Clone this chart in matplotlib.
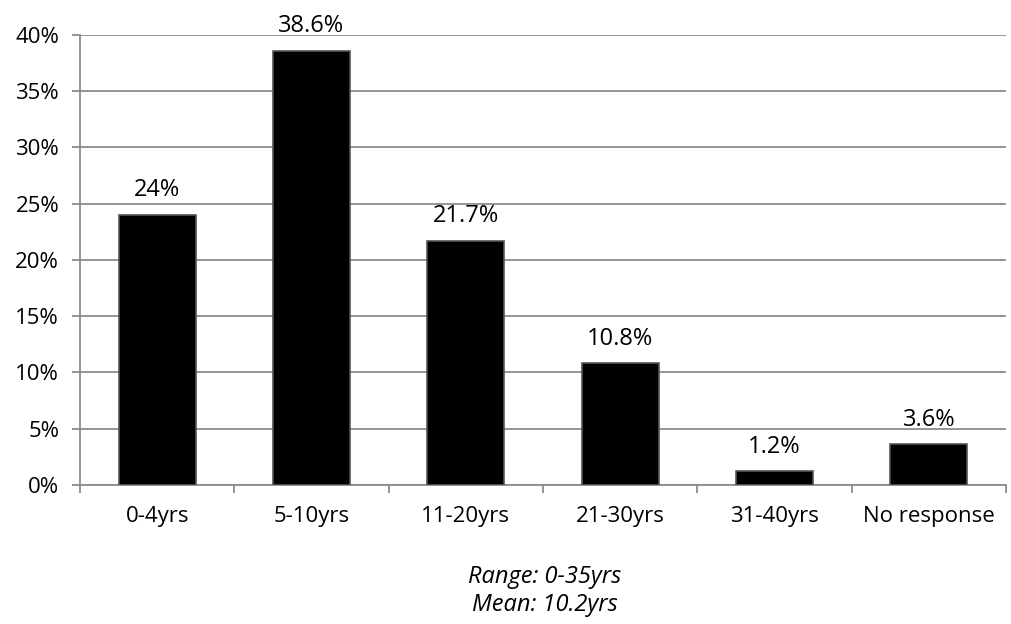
import matplotlib
matplotlib.use("Agg")
import matplotlib.pyplot as plt
from matplotlib.ticker import FuncFormatter, MultipleLocator

# years of experience, share of respondents (%)
categories = ["0-4yrs", "5-10yrs", "11-20yrs", "21-30yrs", "31-40yrs", "No response"]
shares = [24.0, 38.6, 21.7, 10.8, 1.2, 3.6]
share_labels = ["24%", "38.6%", "21.7%", "10.8%", "1.2%", "3.6%"]
footnotes = ["Range: 0-35yrs", "Mean: 10.2yrs"]

plt.rcParams["font.family"] = ["Open Sans", "DejaVu Sans"]
FS = 16

fig = plt.figure(figsize=(10.11, 6.24), dpi=100)
ax = fig.add_axes([0.0791, 0.2228, 0.9159, 0.7211])

x = list(range(len(categories)))
ax.bar(x, shares, width=0.5, color="black", edgecolor="#555555", linewidth=1.2, zorder=3)

for xi, v, lab in zip(x, shares, share_labels):
    ax.annotate(lab, (xi, v), xytext=(0, 13.5), textcoords="offset points",
                ha="center", va="baseline", fontsize=17, color="black")

ax.set_xlim(-0.5, len(categories) - 0.5)
ax.set_ylim(0, 40)
ax.yaxis.set_major_locator(MultipleLocator(5))
ax.yaxis.set_major_formatter(FuncFormatter(lambda v, _: f"{v:.0f}%"))
ax.grid(axis="y", color="#8c8c8c", linewidth=1.3, zorder=0)

# category ticks sit between the bars
ax.set_xticks([i - 0.5 for i in range(len(categories) + 1)])
ax.set_xticklabels([])
ax.set_xticks(x, minor=True)
ax.set_xticklabels(categories, minor=True, fontsize=FS)
ax.tick_params(axis="x", which="major", length=6, width=1.3, color="#8c8c8c")
ax.tick_params(axis="x", which="minor", length=0, pad=15)
ax.tick_params(axis="y", length=6, width=1.3, color="#8c8c8c", labelsize=FS, pad=9)

for side in ["top", "right"]:
    ax.spines[side].set_visible(False)
for side in ["left", "bottom"]:
    ax.spines[side].set_color("#8c8c8c")
    ax.spines[side].set_linewidth(1.3)

fig.text(0.539, 0.075, footnotes[0], ha="center", va="center", fontsize=17, style="italic")
fig.text(0.539, 0.030, footnotes[1], ha="center", va="center", fontsize=17, style="italic")

fig.savefig("out.png", dpi=100)
